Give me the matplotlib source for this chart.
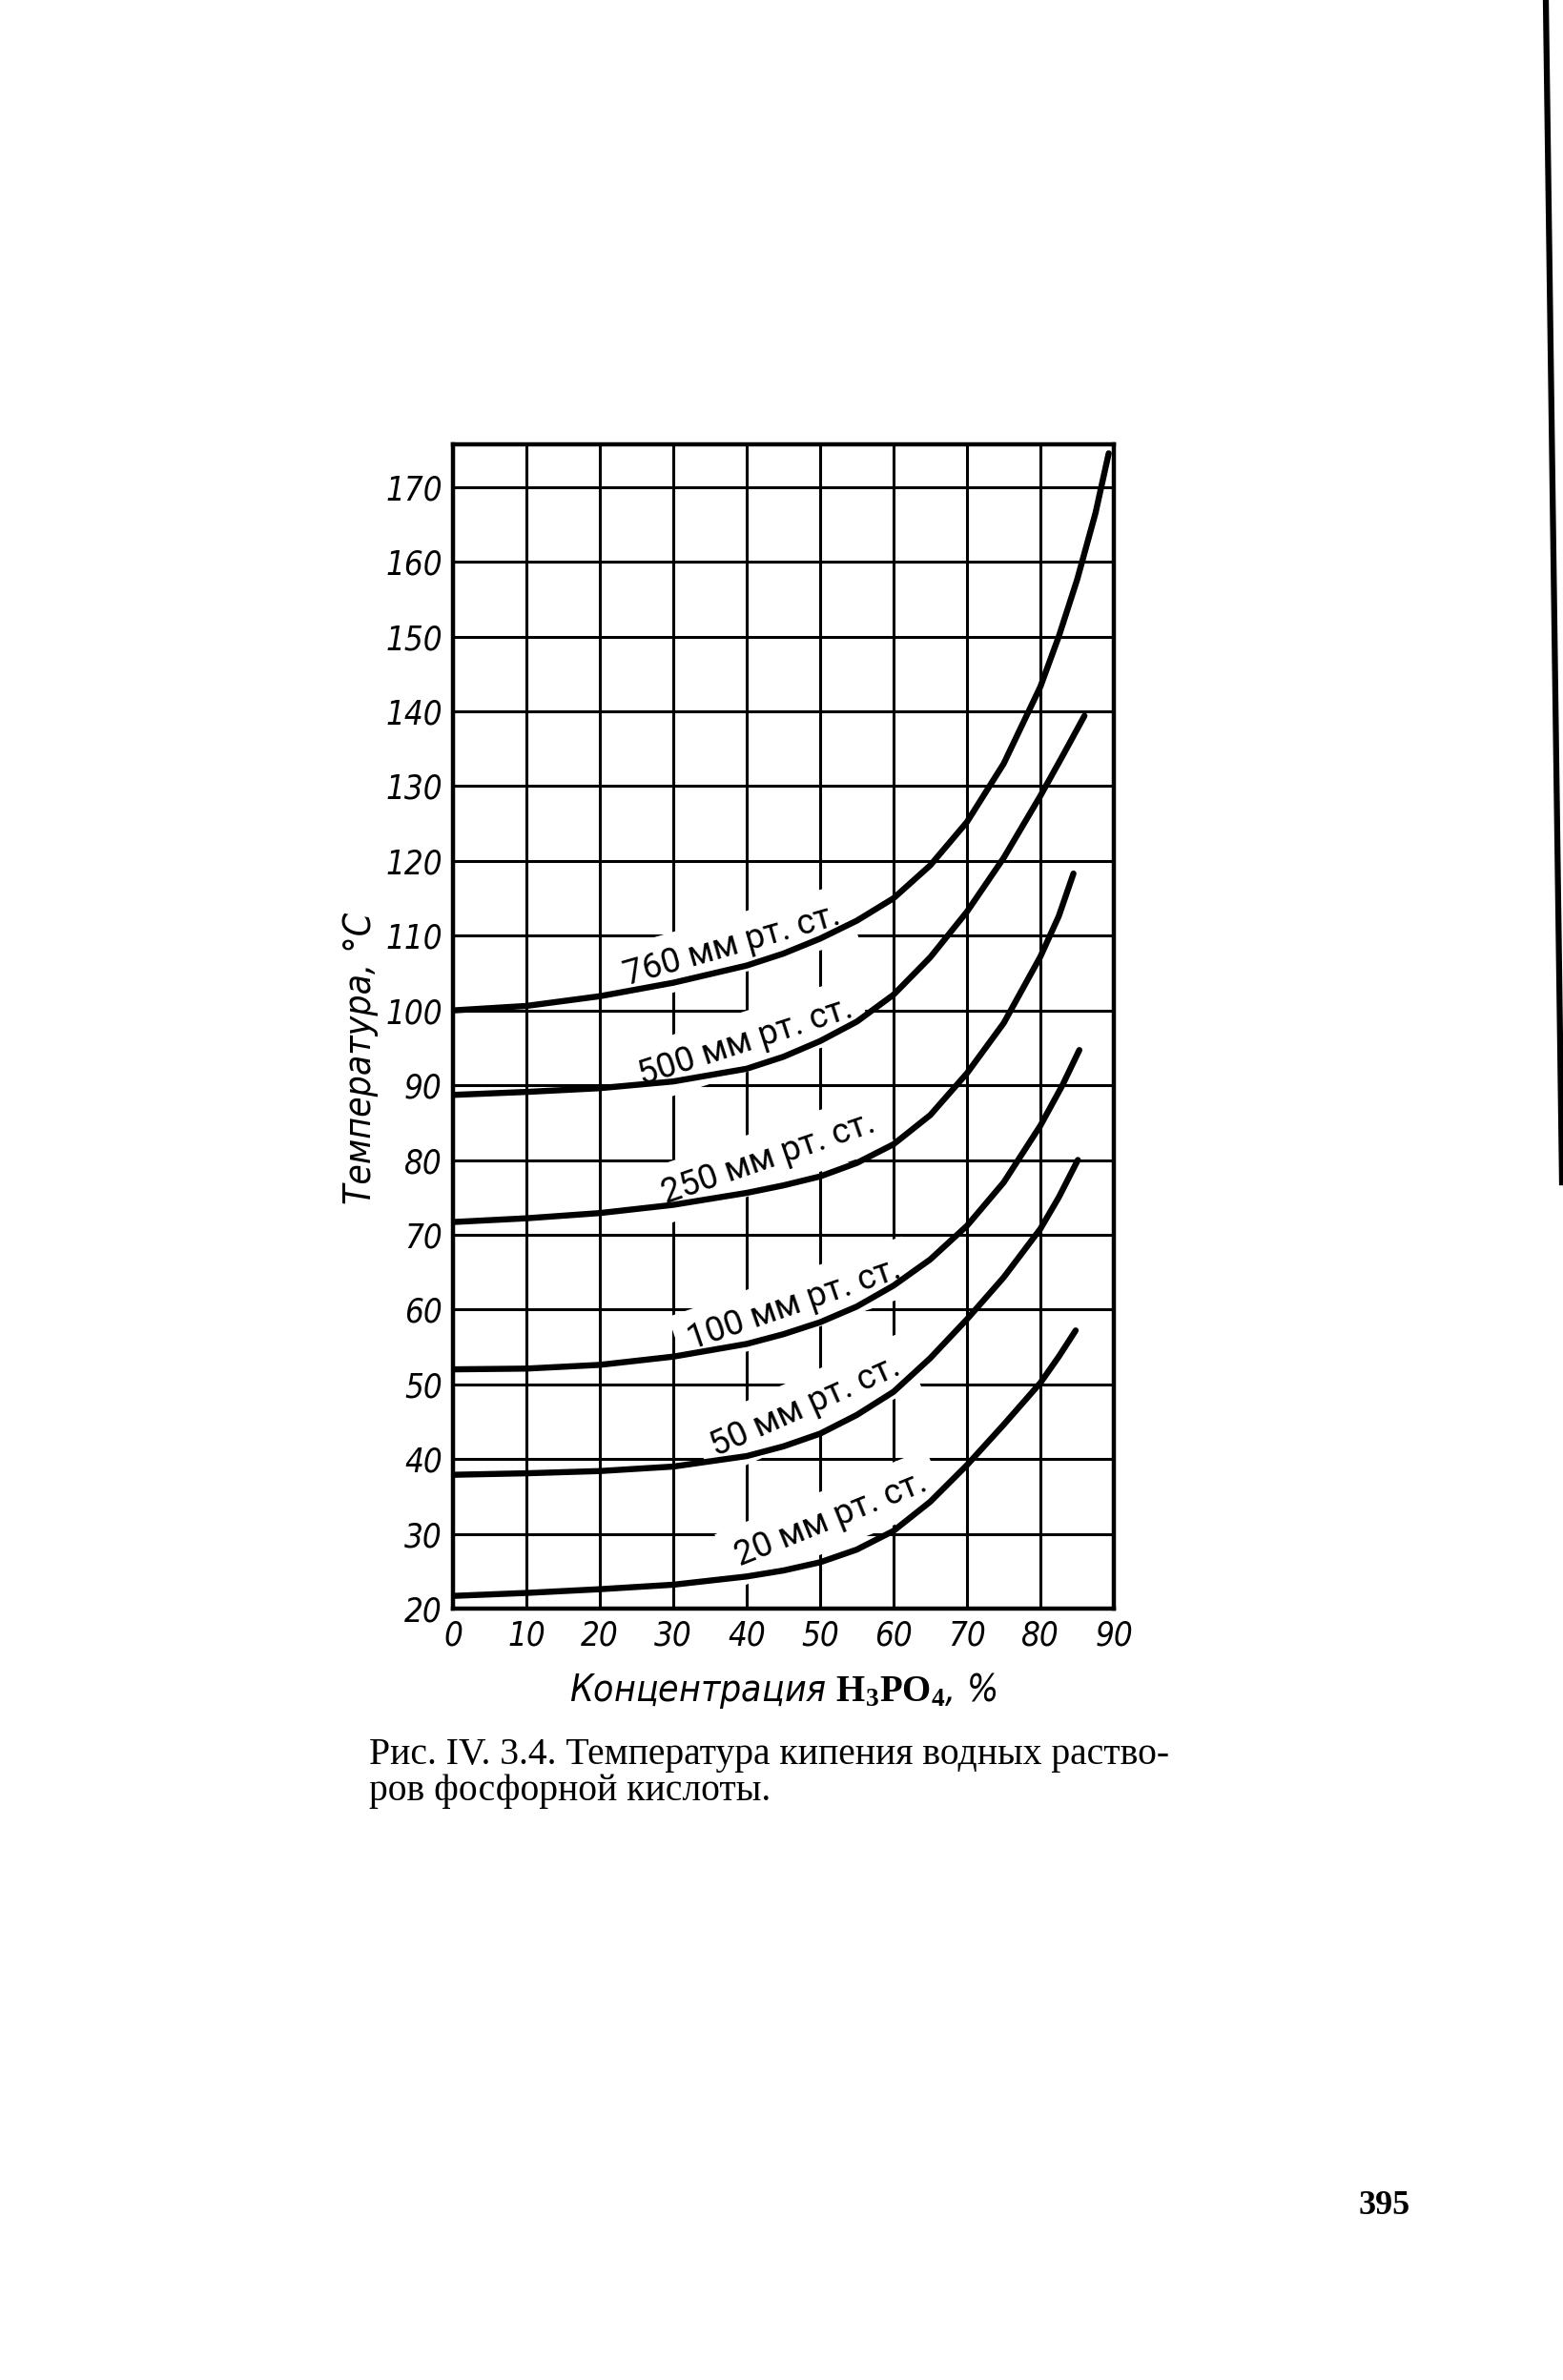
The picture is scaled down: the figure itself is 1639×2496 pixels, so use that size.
import matplotlib
import matplotlib.pyplot as plt
from matplotlib import font_manager
from matplotlib.lines import Line2D

matplotlib.use('Agg')

plt.rcParams['mathtext.fontset'] = 'custom'
plt.rcParams['mathtext.bf'] = 'Liberation Serif:bold'
plt.rcParams['mathtext.rm'] = 'Liberation Serif'

# narrow italic face for the axis texts, whatever is installed
_fonts = font_manager.fontManager.ttflist
if any(f.name == 'Liberation Sans Narrow' for f in _fonts):
    NARROW = dict(family='Liberation Sans Narrow')
elif any(f.name == 'DejaVu Sans' and f.stretch in ('condensed', 300) for f in _fonts):
    NARROW = dict(family='DejaVu Sans', stretch='condensed')
else:
    NARROW = dict(family='DejaVu Sans')

# concentration H3PO4, % -> boiling temperature, °C
x_760 = [0, 10, 20, 30, 40, 45, 50, 55, 60, 65, 70, 75, 80, 82.5, 85, 87.5, 89.3]
t_760 = [100, 100.6, 101.9, 103.7, 106, 107.6, 109.6, 112.0, 115.0, 119.4, 125.2, 133.0, 143.3, 150.0, 157.6, 166.5, 174.5]

x_500 = [0, 10, 20, 30, 40, 45, 50, 55, 60, 65, 70, 75, 80, 83, 86]
t_500 = [88.7, 89.1, 89.6, 90.5, 92.2, 93.8, 95.9, 98.5, 102.1, 107.1, 113.2, 120.4, 128.7, 134.0, 139.4]

x_250 = [0, 10, 20, 30, 40, 45, 50, 55, 60, 65, 70, 75, 80, 82.5, 84.5]
t_250 = [71.7, 72.2, 72.9, 74, 75.6, 76.6, 77.8, 79.6, 82.1, 86.0, 91.6, 98.3, 107.2, 112.6, 118.3]

x_100 = [0, 10, 20, 30, 40, 45, 50, 55, 60, 65, 70, 75, 80, 83, 85.3]
t_100 = [52, 52.1, 52.6, 53.7, 55.4, 56.7, 58.3, 60.4, 63.2, 66.7, 71.2, 77.0, 84.6, 90, 94.7]

x_50 = [0, 10, 20, 30, 40, 45, 50, 55, 60, 65, 70, 75, 80, 82.5, 85.1]
t_50 = [37.9, 38.1, 38.4, 39.0, 40.4, 41.7, 43.4, 45.9, 49.0, 53.5, 58.7, 64.3, 70.8, 75.0, 80]

x_20 = [0, 10, 20, 30, 40, 45, 50, 55, 60, 65, 70, 75, 80, 82.5, 84.8]
t_20 = [21.7, 22.1, 22.6, 23.2, 24.3, 25.1, 26.2, 27.9, 30.4, 34.3, 39.2, 44.6, 50.2, 53.7, 57.2]

curves = [(x_760, t_760), (x_500, t_500), (x_250, t_250),
          (x_100, t_100), (x_50, t_50), (x_20, t_20)]

# curve labels: text, position (x, t), angle on page
labels = ['760 мм рт. ст.', '500 мм рт. ст.', '250 мм рт. ст.',
          '100 мм рт. ст.', '50 мм рт. ст.', '20 мм рт. ст.']
label_x = [38, 39.8, 43, 46.5, 48, 51.5]
label_t = [108.7, 95.8, 80.2, 60.7, 47.0, 32.0]
label_rot = [16, 18, 19, 19, 24, 22]

xticks = list(range(0, 91, 10))
yticks = list(range(20, 171, 10))

fig = plt.figure(figsize=(16.4, 24.96), dpi=100)
ax = fig.add_axes([0.2896, 0.3241, 0.4226, 0.4892])

for xs, ts in curves:
    ax.plot(xs, ts, color='black', lw=4.6, solid_capstyle='round',
            solid_joinstyle='round', zorder=4)

for txt, lx, lt, rot in zip(labels, label_x, label_t, label_rot):
    ax.text(lx, lt, txt, rotation=rot, rotation_mode='anchor', ha='center', va='center',
            family='Roboto', fontsize=26, zorder=3,
            bbox=dict(boxstyle='square,pad=0.35', fc='white', ec='none'))

ax.set_xlim(0, 90)
ax.set_ylim(20, 175.7)
ax.set_xticks(xticks)
ax.set_yticks(yticks)
ax.set_xticklabels([str(v) for v in xticks], style='italic', fontsize=25, **NARROW)
ax.set_yticklabels([str(v) for v in yticks], style='italic', fontsize=25, **NARROW)
ax.tick_params(length=0, pad=8)
ax.grid(True, color='black', lw=2.2, zorder=1)
ax.set_axisbelow(True)
for sp in ax.spines.values():
    sp.set_linewidth(3.2)

ax.set_xlabel('Концентрация $\\mathbf{H_3PO_4}$, %', style='italic',
              fontsize=28, labelpad=14, **NARROW)
ax.set_ylabel('Температура, °C', style='italic', fontsize=28, **NARROW)
ax.yaxis.set_label_coords(-0.113, 0.4726)

fig.text(0.236, 1 - 1850 / 2496, 'Рис. IV. 3.4. Температура кипения водных раство-',
         family='Liberation Serif', fontsize=28.5, va='baseline', ha='left')
fig.text(0.236, 1 - 1888 / 2496, 'ров фосфорной кислоты.',
         family='Liberation Serif', fontsize=28.5, va='baseline', ha='left')
fig.text(1452 / 1640, 1 - 2313 / 2496, '395', family='Liberation Serif',
         fontweight='bold', fontsize=26, ha='center', va='center')

# dark edge of the scanned page
fig.add_artist(Line2D([1621 / 1640, 1638 / 1640], [1, 1 - 1240 / 2496],
                      transform=fig.transFigure, color='black', lw=4.5))

fig.savefig('out.png', dpi=100, facecolor='white')
